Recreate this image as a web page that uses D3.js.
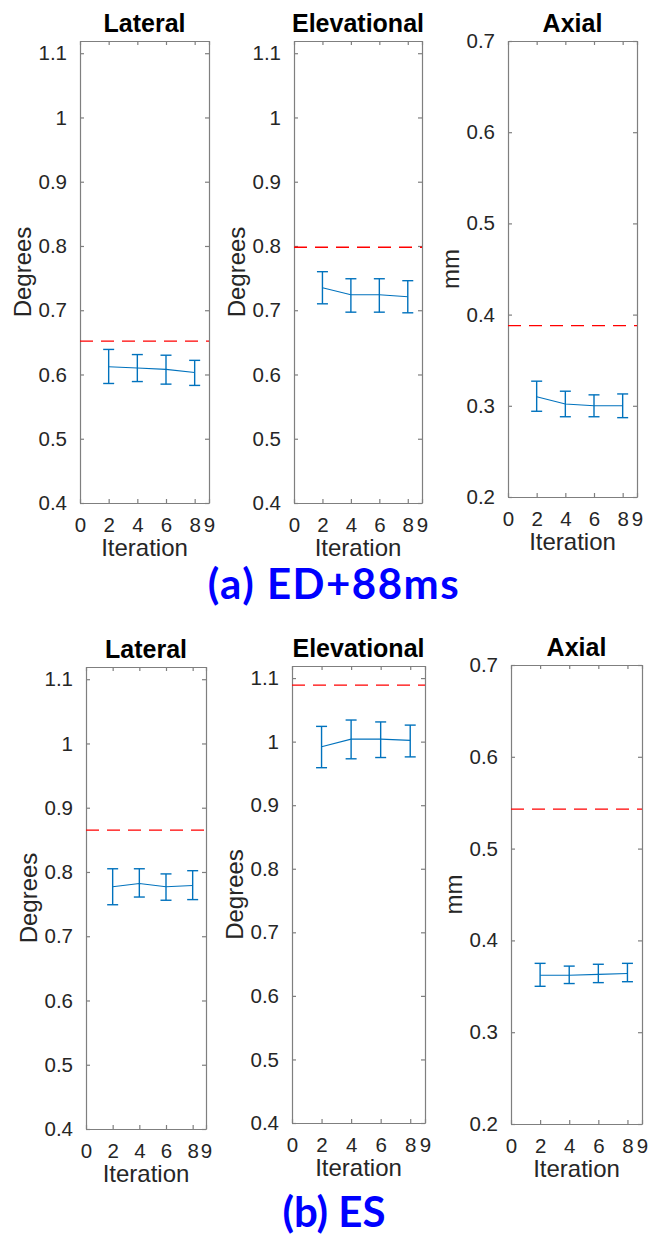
<!DOCTYPE html>
<html>
<head>
<meta charset="utf-8">
<script src="https://cdn.jsdelivr.net/npm/d3@7/dist/d3.min.js"></script>
<style>
  html, body { margin: 0; padding: 0; background: #fff; }
  svg { display: block; }
</style>
</head>
<body>
<svg id="chart" width="648" height="1237"></svg>
<script>
// ---- data ----
const iterations = [2, 4, 6, 8];
const xTicks = [0, 2, 4, 6, 8, 9];
const degreeTicks = [0.4, 0.5, 0.6, 0.7, 0.8, 0.9, 1, 1.1];
const mmTicks = [0.2, 0.3, 0.4, 0.5, 0.6, 0.7];
const panelTitles = ["Lateral", "Elevational", "Axial"];
const rowCaptions = ["(a) ED+88ms", "(b) ES"];

// (a) ED+88ms
const latA_mean  = [0.612, 0.610, 0.608, 0.603];
const latA_upper = [0.639, 0.631, 0.630, 0.622];
const latA_lower = [0.586, 0.589, 0.585, 0.583];
const latA_ref = 0.652;

const elevA_mean  = [0.735, 0.724, 0.724, 0.721];
const elevA_upper = [0.760, 0.749, 0.749, 0.746];
const elevA_lower = [0.710, 0.697, 0.697, 0.696];
const elevA_ref = 0.798;

const axA_mean  = [0.310, 0.302, 0.300, 0.300];
const axA_upper = [0.327, 0.316, 0.312, 0.313];
const axA_lower = [0.294, 0.288, 0.288, 0.287];
const axA_ref = 0.388;

// (b) ES
const latB_mean  = [0.777, 0.782, 0.777, 0.779];
const latB_upper = [0.805, 0.805, 0.797, 0.802];
const latB_lower = [0.749, 0.761, 0.756, 0.757];
const latB_ref = 0.865;

const elevB_mean  = [0.992, 1.004, 1.004, 1.002];
const elevB_upper = [1.024, 1.034, 1.031, 1.026];
const elevB_lower = [0.959, 0.973, 0.975, 0.976];
const elevB_ref = 1.089;

const axB_mean  = [0.362, 0.362, 0.363, 0.364];
const axB_upper = [0.375, 0.372, 0.374, 0.375];
const axB_lower = [0.350, 0.353, 0.354, 0.355];
const axB_ref = 0.543;

const degreeDomain = [0.4, 1.119];
const mmDomain = [0.2, 0.7];

// ---- layout ----
const FONT = "'Liberation Sans', Arial, Helvetica, sans-serif";
const AXIS_COLOR = "#7f7f7f";
const TEXT_COLOR = "#262626";
const LINE_BLUE = "#0072BD";

const panels = [
  { box: [80, 209, 41, 503],   title: 0, ylabel: "Degrees", ticks: degreeTicks, domain: degreeDomain, mean: latA_mean,  upper: latA_upper,  lower: latA_lower,  ref: latA_ref },
  { box: [294, 422, 41, 503],  title: 1, ylabel: "Degrees", ticks: degreeTicks, domain: degreeDomain, mean: elevA_mean, upper: elevA_upper, lower: elevA_lower, ref: elevA_ref },
  { box: [508, 637, 41, 497],  title: 2, ylabel: "mm",      ticks: mmTicks,     domain: mmDomain,     mean: axA_mean,   upper: axA_upper,   lower: axA_lower,   ref: axA_ref },
  { box: [86, 206, 667, 1129], title: 0, ylabel: "Degrees", ticks: degreeTicks, domain: degreeDomain, mean: latB_mean,  upper: latB_upper,  lower: latB_lower,  ref: latB_ref },
  { box: [292, 425, 666, 1123],title: 1, ylabel: "Degrees", ticks: degreeTicks, domain: degreeDomain, mean: elevB_mean, upper: elevB_upper, lower: elevB_lower, ref: elevB_ref },
  { box: [511, 642, 665, 1124],title: 2, ylabel: "mm",      ticks: mmTicks,     domain: mmDomain,     mean: axB_mean,   upper: axB_upper,   lower: axB_lower,   ref: axB_ref }
];

const svg = d3.select("#chart");
const tickFmt = d => (d === 1 ? "1" : d3.format(".1f")(d));

panels.forEach(p => {
  const [x0, x1, y0, y1] = p.box;
  const x = d3.scaleLinear().domain([0, 9]).range([x0, x1]);
  const y = d3.scaleLinear().domain(p.domain).range([y1, y0]);
  const g = svg.append("g");

  // axes: ticks point inward on all four sides
  const tl = 4;
  const left = d3.axisLeft(y).tickValues(p.ticks).tickSizeInner(-tl).tickSizeOuter(0).tickPadding(9 + tl).tickFormat(tickFmt);
  const right = d3.axisRight(y).tickValues(p.ticks).tickSizeInner(-tl).tickSizeOuter(0).tickFormat("");
  const bottom = d3.axisBottom(x).tickValues(xTicks).tickSizeInner(-tl).tickSizeOuter(0).tickPadding(10 + tl).tickFormat(d3.format("d"));
  const top = d3.axisTop(x).tickValues(xTicks).tickSizeInner(-tl).tickSizeOuter(0).tickFormat("");

  const axes = [
    g.append("g").attr("transform", `translate(${x0},0)`).call(left),
    g.append("g").attr("transform", `translate(${x1},0)`).call(right),
    g.append("g").attr("transform", `translate(0,${y1})`).call(bottom),
    g.append("g").attr("transform", `translate(0,${y0})`).call(top)
  ];
  axes.forEach(a => {
    a.selectAll("path.domain").attr("stroke", AXIS_COLOR).attr("stroke-width", 1.2);
    a.selectAll(".tick line").attr("stroke", AXIS_COLOR).attr("stroke-width", 1.2);
    a.selectAll(".tick text").attr("fill", TEXT_COLOR).style("font-family", FONT).style("font-size", "20.5px");
  });

  // reference level
  g.append("line")
    .attr("x1", x(0)).attr("x2", x(9))
    .attr("y1", y(p.ref)).attr("y2", y(p.ref))
    .attr("stroke", "#ff0000").attr("stroke-width", 1.3)
    .attr("stroke-dasharray", "13 8");

  // mean line
  const pts = iterations.map((it, i) => ({ it, m: p.mean[i], hi: p.upper[i], lo: p.lower[i] }));
  g.append("path")
    .datum(pts)
    .attr("fill", "none").attr("stroke", LINE_BLUE).attr("stroke-width", 1.1)
    .attr("d", d3.line().x(d => x(d.it)).y(d => y(d.m)));

  // error bars
  const cap = 5.5;
  const eb = g.selectAll("g.eb").data(pts).enter().append("g")
    .attr("stroke", LINE_BLUE).attr("stroke-width", 1.4);
  eb.append("line").attr("x1", d => x(d.it)).attr("x2", d => x(d.it)).attr("y1", d => y(d.hi)).attr("y2", d => y(d.lo));
  eb.append("line").attr("x1", d => x(d.it) - cap).attr("x2", d => x(d.it) + cap).attr("y1", d => y(d.hi)).attr("y2", d => y(d.hi));
  eb.append("line").attr("x1", d => x(d.it) - cap).attr("x2", d => x(d.it) + cap).attr("y1", d => y(d.lo)).attr("y2", d => y(d.lo));

  // title
  g.append("text")
    .attr("x", (x0 + x1) / 2).attr("y", y0 - 9)
    .attr("text-anchor", "middle")
    .style("font-family", FONT).style("font-size", "25px").style("font-weight", "bold")
    .attr("fill", "#000")
    .text(panelTitles[p.title]);

  // x label
  g.append("text")
    .attr("x", (x0 + x1) / 2).attr("y", y1 + 53)
    .attr("text-anchor", "middle")
    .style("font-family", FONT).style("font-size", "24px")
    .attr("fill", TEXT_COLOR)
    .text("Iteration");

  // y label
  const cy = (y0 + y1) / 2, cx = x0 - 58;
  g.append("text")
    .attr("transform", `translate(${cx},${cy}) rotate(-90)`)
    .attr("text-anchor", "middle").attr("dominant-baseline", "central")
    .style("font-family", FONT).style("font-size", "24px")
    .attr("fill", TEXT_COLOR)
    .text(p.ylabel);
});

// row captions
[[334, 599, 1.5], [334, 1227, 0]].forEach((pos, i) => {
  svg.append("text")
    .attr("x", pos[0]).attr("y", pos[1])
    .attr("text-anchor", "middle")
    .style("font-family", "Lato, 'Open Sans', sans-serif")
    .style("font-size", "42px").style("font-weight", "bold")
    .style("letter-spacing", pos[2] + "px")
    .attr("fill", "#0000ff")
    .text(rowCaptions[i]);
});
</script>
</body>
</html>
